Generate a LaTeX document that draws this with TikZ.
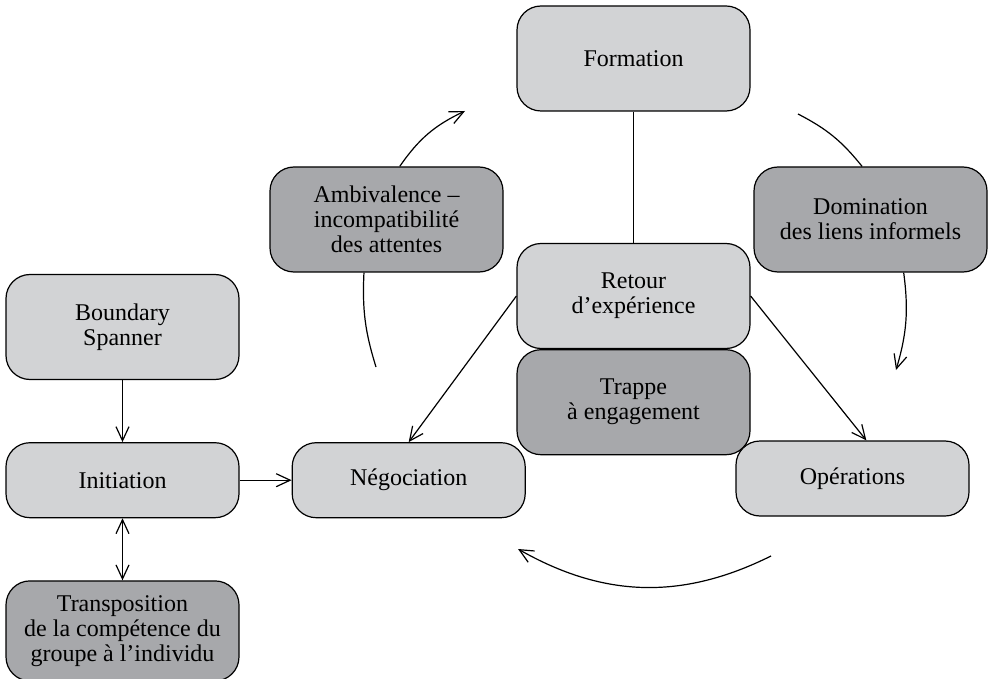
\documentclass[tikz,border=0pt]{standalone}
\usepackage{fontspec}
\setmainfont{Liberation Serif}
\usetikzlibrary{positioning, arrows.meta}

\definecolor{boxlight}{RGB}{210,211,213}
\definecolor{boxdark}{RGB}{167,168,171}

\tikzset{
	phase/.style={draw, rounded corners=12pt, fill=boxlight, minimum width=116.5pt, minimum height=37.5pt, align=center, inner sep=2pt, font=\fontsize{12}{12.5}\selectfont},
	tall/.style={minimum height=52.5pt},
	risk/.style={fill=boxdark},
}

\begin{document}
\begin{tikzpicture}[x=0.5pt, y=-0.5pt, line width=0.6pt, >={Straight Barb[length=7pt,width=6.5pt]}]

	\useasboundingbox (0,0) rectangle (990,679);

	\node[phase, tall] (form) at (633.5,58.5) {Formation};
	\node[phase, tall] (retour) at (633.5,296) {Retour\\d’expérience};
	\node[phase, tall, risk, below=0pt of retour] (trappe) {Trappe\\à engagement};
	\node[phase, tall, risk] (amb) at (386.5,219.5) {Ambivalence --\\incompatibilité\\des attentes};
	\node[phase, tall, risk] (dom) at (870.5,219.5) {Domination\\des liens informels};
	\node[phase] (ope) at (852.5,478.5) {Opérations};
	\node[phase, tall] (bs) at (122.5,327) {Boundary\\Spanner};
	\node[phase, below=31pt of bs] (init) {Initiation};
	\node[phase, risk, below=31pt of init, minimum height=50pt] (transp) {Transposition\\de la compétence du\\groupe à l’individu};
	\node[phase, right=26pt of init] (neg) {Négociation};

	\coordinate (ambtip) at (465,111);
	\coordinate (ambtail) at (376,367);
	\coordinate (domtail) at (798,114);
	\coordinate (domtip) at (896,370);
	\coordinate (loopstart) at (771,556);
	\coordinate (looptip) at (518,549);

	\draw[->] (bs) -- (init);
	\draw[<->] (init) -- (transp);
	\draw[->] (init) -- (neg);
	\draw (form) -- (retour);
	\draw[->] (retour.west) -- (neg.north);
	\draw[->] (retour.east) -- (ope.70);

	\draw[->] (amb.76) to[bend left=15] (ambtip);
	\draw (ambtail) to[bend left=10] (amb.247);
	\draw (domtail) to[bend left=12] (dom.99);
	\draw[->] (dom.-58) to[bend left=12] (domtip);
	\draw[->] (loopstart) to[bend left=28] (looptip);

\end{tikzpicture}
\end{document}
